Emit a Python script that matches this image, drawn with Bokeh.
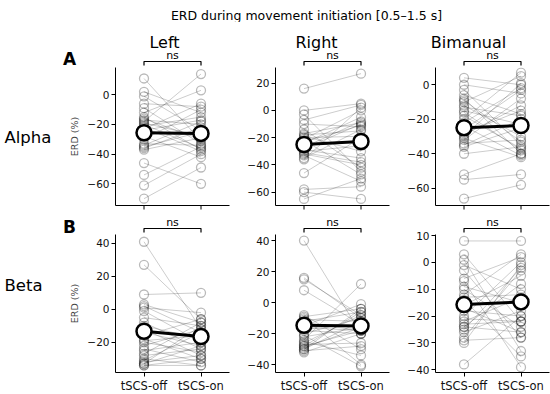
from bokeh.plotting import figure
from bokeh.layouts import column, row
from bokeh.models import Range1d, FixedTicker
from bokeh.core.properties import value
from bokeh.embed import file_html
from bokeh.resources import INLINE

# ---------------- data ----------------
conditions = ["tSCS-off", "tSCS-on"]
tasks = ["Left", "Right", "Bimanual"]
bands = ["Alpha", "Beta"]
panel_letters = ["A", "B"]
main_title = "ERD during movement initiation [0.5\u20131.5 s]"
y_label = "ERD (%)"
significance = [["ns", "ns", "ns"], ["ns", "ns", "ns"]]

alpha_left_off = [11, 2, -1, -6, -9, -12, -15, -17, -18, -19, -20, -21, -22, -23, -26, -28, -30, -33, -34, -35, -36, -37, -46, -54, -61, -70, -16, -24]
alpha_left_on = [-31, -12, -24, -8, -33, 3, -37, -20, 14, -28, -36, -15, -38, -6, -27, -42, -10, -34, -18, -25, -22, -29, -60, -35, -40, -49, -30, -17]

alpha_right_off = [16, 0, -3, -7, -10, -14, -17, -18, -19, -20, -21, -22, -24, -26, -28, -30, -31, -33, -35, -36, -46, -58, -60, -65, -27, -29, -23, -32]
alpha_right_on = [27, 5, -45, 4, -12, -42, -9, -15, -30, -19, 0, -47, -5, -22, -10, -26, -38, -52, -14, 2, -20, -56, -65, -50, -8, -35, -11, -40]

alpha_bi_off = [4, 0, -3, -6, -8, -10, -12, -13, -18, -20, -22, -28, -30, -31, -32, -34, -35, -36, -40, -52, -55, -66, -26, -24, -15, -9, -29, -16]
alpha_bi_on = [0, -5, -35, -17, -40, 5, -30, -18, -37, 7, -2, -15, 1, -42, -8, -32, -20, -25, -36, -40, -52, -58, -3, -41, -23, -33, -12, -38]

beta_left_off = [41, 27, 9, 3, 2, 1, -1, -5, -8, -10, -12, -14, -16, -18, -19, -20, -22, -24, -25, -27, -28, -30, -31, -32, -33, -34, -34, -33]
beta_left_on = [-12, -6, 10, -8, -14, -2, -20, -10, -24, -18, -28, -22, -6, -30, -16, -26, -12, -32, -20, -8, -24, -34, -14, -28, -22, -30, -34, -10]

beta_right_off = [40, 16, 15, 8, -8, -9, -10, -11, -12, -13, -15, -16, -17, -18, -20, -21, -22, -24, -25, -26, -27, -28, -28, -29, -30, -31, -32, -30]
beta_right_on = [-20, -10, -8, -14, -30, -4, -40, -12, -6, -18, -1, -18, -14, -20, -10, -41, -16, 12, -34, -8, -26, -6, -18, -16, -12, -28, -20, -4]

beta_bi_off = [8, 3, 1, -1, -3, -6, -7, -9, -10, -12, -14, -16, -18, -20, -22, -24, -24, -25, -26, -28, -29, -30, -38, -17, -13, -21, -23, -16]
beta_bi_on = [8, -22, -33, -10, -28, 2, -39, -15, -24, 3, -35, -5, -20, 0, -13, -26, -8, -2, -18, -3, -28, -1, -20, -26, -12, -22, -22, -15]

alpha_mean_off = [-25.6, -25.0, -24.9]
alpha_mean_on = [-26.0, -22.8, -23.6]
beta_mean_off = [-13.3, -14.6, -15.7]
beta_mean_on = [-16.5, -15.0, -14.7]

y_limits = [[(-74.6, 18.4), (-69.8, 31.5), (-70.0, 10.0)],
            [(-38.3, 45.4), (-45.0, 43.9), (-41.0, 10.4)]]
y_ticks = [[[-60, -40, -20, 0], [-60, -40, -20, 0, 20], [-60, -40, -20, 0]],
           [[-20, 0, 20, 40], [-40, -20, 0, 20, 40], [-40, -30, -20, -10, 0, 10]]]

subjects = [[(alpha_left_off, alpha_left_on), (alpha_right_off, alpha_right_on), (alpha_bi_off, alpha_bi_on)],
            [(beta_left_off, beta_left_on), (beta_right_off, beta_right_on), (beta_bi_off, beta_bi_on)]]
means = [[(alpha_mean_off[i], alpha_mean_on[i]) for i in range(3)],
         [(beta_mean_off[i], beta_mean_on[i]) for i in range(3)]]

# ---------------- layout (page pixels) ----------------
FONT = "DejaVu Sans"
FRAME_W, FRAME_H = 114, 138
COL_LEFT = [115, 273, 432]
ROW_TOP = [67, 234]
FIG_X = [(0, 244), (244, 402), (402, 550)]
TITLE_H = 22
FIG_Y = [(TITLE_H, 215), (215, 394)]
TITLE_X = [164, 314, 465]
TICK_LEN = 4

XPOS = list(range(len(conditions)))  # 0, 1


def minus(v):
    return str(v).replace("-", "\u2212")


def add_text(p, x, y, txt, size, align="center", style="normal"):
    p.text(x=[x], y=[y], text=[txt], x_range_name="px", y_range_name="py",
           text_align=align, text_baseline="alphabetic",
           text_font=value(FONT), text_font_size=value(size), text_font_style=style,
           text_color="black", level="overlay")


def make_panel(r, c):
    off, on = subjects[r][c]
    m_off, m_on = means[r][c]
    fx0, fy0 = COL_LEFT[c], ROW_TOP[r]
    p = figure(frame_width=FRAME_W, frame_height=FRAME_H,
               x_range=Range1d(XPOS[0] - 0.5, XPOS[-1] + 0.5),
               y_range=Range1d(*y_limits[r][c]),
               min_border_left=fx0 - FIG_X[c][0],
               min_border_right=FIG_X[c][1] - (fx0 + FRAME_W),
               min_border_top=fy0 - FIG_Y[r][0],
               min_border_bottom=FIG_Y[r][1] - (fy0 + FRAME_H),
               output_backend="svg", toolbar_location=None, tools="")
    p.extra_x_ranges = {"px": Range1d(fx0, fx0 + FRAME_W)}
    p.extra_y_ranges = {"py": Range1d(fy0 + FRAME_H, fy0)}
    p.grid.visible = False
    p.outline_line_color = None
    p.background_fill_color = "white"
    p.border_fill_color = "white"

    for ax in (p.xaxis[0], p.yaxis[0]):
        ax.axis_line_color = "black"
        ax.axis_line_width = 1
        ax.major_tick_line_color = "black"
        ax.major_tick_in = 0
        ax.major_tick_out = TICK_LEN
        ax.minor_tick_in = 0
        ax.minor_tick_out = 0
        ax.major_label_text_font = FONT
        ax.major_label_text_color = "#111111"
    p.yaxis.ticker = FixedTicker(ticks=y_ticks[r][c])
    p.yaxis.major_label_overrides = {t: minus(t) for t in y_ticks[r][c]}
    p.yaxis.major_label_text_font_size = "10.5px"
    p.yaxis.major_label_standoff = 2
    if r == 1:
        p.xaxis.ticker = FixedTicker(ticks=XPOS)
        p.xaxis.major_label_overrides = {i: conditions[i] for i in XPOS}
        p.xaxis.major_label_text_font_size = "11.5px"
        p.xaxis.major_label_standoff = 2
    else:
        # unlabeled x axis: spine only, tick marks placed at the category positions
        p.xaxis.ticker = FixedTicker(ticks=[])
        p.segment(x0=XPOS, x1=XPOS, y0=[fy0 + FRAME_H] * len(XPOS),
                  y1=[fy0 + FRAME_H + TICK_LEN] * len(XPOS), y_range_name="py",
                  line_color="black", line_width=1, level="overlay")
    if c == 0:
        p.yaxis.axis_label = y_label
        p.yaxis.axis_label_text_font = FONT
        p.yaxis.axis_label_text_font_size = "9.5px"
        p.yaxis.axis_label_text_font_style = "normal"
        p.yaxis.axis_label_standoff = 4

    n = len(off)
    p.multi_line(xs=[XPOS] * n, ys=[[a, b] for a, b in zip(off, on)],
                 line_color="black", line_alpha=0.25, line_width=0.8)
    p.scatter(x=[XPOS[0]] * n + [XPOS[1]] * n, y=list(off) + list(on),
              size=9, fill_color=None, line_color="black", line_alpha=0.27, line_width=1.3)
    p.line(x=XPOS, y=[m_off, m_on], line_color="black", line_width=3)
    p.scatter(x=XPOS, y=[m_off, m_on], size=15, fill_color="white",
              line_color="black", line_width=2.5)

    # significance bracket (outside the frame)
    p.line(x=[XPOS[0], XPOS[0], XPOS[1], XPOS[1]],
           y=[fy0 - 2, fy0 - 6, fy0 - 6, fy0 - 2], y_range_name="py",
           line_color="black", line_width=1.2, level="overlay")
    add_text(p, fx0 + FRAME_W / 2, fy0 - 12, significance[r][c], "11px")

    if r == 0:
        add_text(p, TITLE_X[c], 42.3, tasks[c], "16px")
    if c == 0:
        add_text(p, 69, [58.5, 226][r], panel_letters[r], "17px", style="bold")
        add_text(p, 4, [137, 285][r], bands[r], "16.5px", align="left")
    return p


title_fig = figure(width=550, height=TITLE_H, x_range=Range1d(0, 550), y_range=Range1d(TITLE_H, 0),
                   min_border=0, x_axis_location=None, y_axis_location=None,
                   output_backend="svg", toolbar_location=None, tools="")
title_fig.grid.visible = False
title_fig.outline_line_color = None
title_fig.text(x=[306], y=[14.5], text=[main_title], text_align="center",
               text_baseline="alphabetic", text_font=value(FONT),
               text_font_size=value("12.5px"), text_color="black", level="overlay")

rows = [row(*[make_panel(r, c) for c in range(3)]) for r in range(2)]
p = column(title_fig, *rows)

open("out.html", "w").write(file_html(p, INLINE))
